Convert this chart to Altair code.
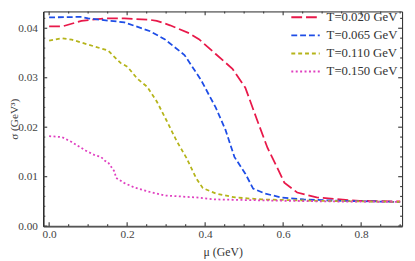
import altair as alt
import pandas as pd

# ---- data ----
series_labels = ["T=0.020 GeV", "T=0.065 GeV", "T=0.110 GeV", "T=0.150 GeV"]

mu_020 = [0.0, 0.035, 0.083, 0.143, 0.193, 0.259, 0.276, 0.310, 0.359, 0.384, 0.427, 0.470,
          0.503, 0.533, 0.560, 0.585, 0.603, 0.636, 0.686, 0.746, 0.796, 0.90]
sig_020 = [0.0404, 0.0404, 0.0415, 0.0420, 0.0420, 0.0417, 0.0415, 0.0406, 0.0390, 0.0378, 0.0348, 0.0318,
           0.0280, 0.0215, 0.0158, 0.0118, 0.0088, 0.0068, 0.0058, 0.0054, 0.0051, 0.0050]

mu_065 = [0.0, 0.083, 0.10, 0.193, 0.259, 0.296, 0.347, 0.389, 0.427, 0.452, 0.475, 0.503,
          0.523, 0.553, 0.595, 0.653, 0.754, 0.90]
sig_065 = [0.0422, 0.0423, 0.0420, 0.0412, 0.0394, 0.0378, 0.0346, 0.0296, 0.0240, 0.0195, 0.0140, 0.0106,
           0.0076, 0.0066, 0.0058, 0.0054, 0.0051, 0.0049]

mu_110 = [0.0, 0.033, 0.058, 0.10, 0.151, 0.183, 0.201, 0.226, 0.251, 0.276, 0.302, 0.327,
          0.352, 0.377, 0.394, 0.427, 0.477, 0.545, 0.704, 0.90]
sig_110 = [0.0375, 0.0380, 0.0377, 0.0367, 0.0355, 0.0330, 0.0322, 0.0298, 0.0282, 0.0252, 0.0212, 0.0172,
           0.0138, 0.0097, 0.0077, 0.0066, 0.0058, 0.0054, 0.0051, 0.0049]

mu_150 = [0.0, 0.033, 0.058, 0.093, 0.118, 0.133, 0.143, 0.151, 0.168, 0.171, 0.193, 0.219,
          0.259, 0.296, 0.377, 0.427, 0.553, 0.704, 0.90]
sig_150 = [0.0182, 0.0180, 0.0170, 0.0153, 0.0143, 0.0140, 0.0132, 0.0129, 0.0110, 0.0098, 0.0087, 0.0078,
           0.0069, 0.0062, 0.0058, 0.0054, 0.0052, 0.0050, 0.0049]

x_major = [0.0, 0.2, 0.4, 0.6, 0.8]
x_minor = [0.05, 0.1, 0.15, 0.25, 0.3, 0.35, 0.45, 0.5, 0.55, 0.65, 0.7, 0.75, 0.85, 0.9]
y_major = [0.0, 0.01, 0.02, 0.03, 0.04]
y_minor = [0.002, 0.004, 0.006, 0.008, 0.012, 0.014, 0.016, 0.018, 0.022, 0.024, 0.026, 0.028,
           0.032, 0.034, 0.036, 0.038, 0.042]

colors = ["#E8194A", "#1E4DE6", "#B5B41A", "#E040C0"]
dashes = [[11, 4], [6, 3], [4, 3], [2, 2.5]]

# ---- build tables ----
rows = []
for lab, ms, ss in zip(series_labels, [mu_020, mu_065, mu_110, mu_150],
                       [sig_020, sig_065, sig_110, sig_150]):
    for m, s in zip(ms, ss):
        rows.append({"mu": m, "sigma": s, "T": lab})
df = pd.DataFrame(rows)
leg_df = pd.DataFrame({"T": series_labels, "row": list(range(len(series_labels)))})

W, H = 366, 219
XDOM = [-0.015, 0.905]
YDOM = [0.0, 0.0434]
FONT = "Liberation Serif"

xscale = alt.Scale(domain=XDOM, nice=False, zero=False)
yscale = alt.Scale(domain=YDOM, nice=False, zero=False)
cscale = alt.Scale(domain=series_labels, range=colors)
dscale = alt.Scale(domain=series_labels, range=dashes)

lines = alt.Chart(df).mark_line(strokeWidth=1.8, clip=True).encode(
    x=alt.X("mu:Q", scale=xscale,
            axis=alt.Axis(values=x_major, format=".1f", ticks=False, tickSize=0, grid=False,
                          labelFont=FONT, labelFontSize=11.5, labelColor="#444",
                          labelPadding=3, domainColor="#555", domainWidth=2,
                          title="μ (GeV)", titleFont=FONT, titleFontSize=12,
                          titleFontWeight="normal", titleColor="#333", titlePadding=6)),
    y=alt.Y("sigma:Q", scale=yscale,
            axis=alt.Axis(values=y_major, format=".2f", ticks=False, tickSize=0, grid=False,
                          labelFont=FONT, labelFontSize=11.5, labelColor="#444",
                          labelPadding=6, domainColor="#222", domainWidth=1.2,
                          title="σ (GeV³)", titleFont=FONT, titleFontSize=11.5,
                          titleFontWeight="normal", titleColor="#333",
                          titleX=-35, titleBaseline="top")),
    color=alt.Color("T:N", scale=cscale, legend=None),
    strokeDash=alt.StrokeDash("T:N", scale=dscale, legend=None),
    order=alt.Order("mu:Q"),
)

TICK = "#444"

def xticks(vals, ln):
    d = pd.DataFrame({"mu": vals})
    bot = alt.Chart(d).mark_rule(color=TICK, strokeWidth=1.2).encode(
        x=alt.X("mu:Q", scale=xscale), y=alt.value(H), y2=alt.value(H - ln))
    top = alt.Chart(d).mark_rule(color=TICK, strokeWidth=1.2).encode(
        x=alt.X("mu:Q", scale=xscale), y=alt.value(0), y2=alt.value(ln))
    return [bot, top]

def yticks(vals, ln):
    d = pd.DataFrame({"sigma": vals})
    lft = alt.Chart(d).mark_rule(color=TICK, strokeWidth=1.2).encode(
        y=alt.Y("sigma:Q", scale=yscale), x=alt.value(0), x2=alt.value(ln))
    rgt = alt.Chart(d).mark_rule(color=TICK, strokeWidth=1.2).encode(
        y=alt.Y("sigma:Q", scale=yscale), x=alt.value(W), x2=alt.value(W - ln))
    return [lft, rgt]

tick_layers = xticks(x_major, 4) + xticks(x_minor, 2) + yticks(y_major, 4) + yticks(y_minor, 2)

inner = alt.layer(lines, *tick_layers)

# legend (drawn as marks, rows placed by their own scale)
legy = alt.Scale(domain=[0, 3], range=[6, 61.2], nice=False, zero=False)
leg_lines = alt.Chart(leg_df).mark_rule(strokeWidth=2).encode(
    x=alt.value(253), x2=alt.value(282),
    y=alt.Y("row:Q", scale=legy, axis=None),
    color=alt.Color("T:N", scale=cscale, legend=None),
    strokeDash=alt.StrokeDash("T:N", scale=dscale, legend=None),
)
leg_text = alt.Chart(leg_df).mark_text(align="left", baseline="middle", font=FONT,
                                       fontSize=13, color="#333").encode(
    x=alt.value(289),
    y=alt.Y("row:Q", scale=legy, axis=None),
    text="T:N",
)

chart = alt.layer(inner, leg_lines, leg_text).resolve_scale(y="independent").properties(
    width=W, height=H,
    autosize=alt.AutoSizeParams(type="none"),
    padding={"left": 36, "top": 1, "right": 5, "bottom": 31},
).configure_view(stroke="#222", strokeWidth=1)

chart.save("out.html", embed_options={"renderer": "svg", "actions": False})
